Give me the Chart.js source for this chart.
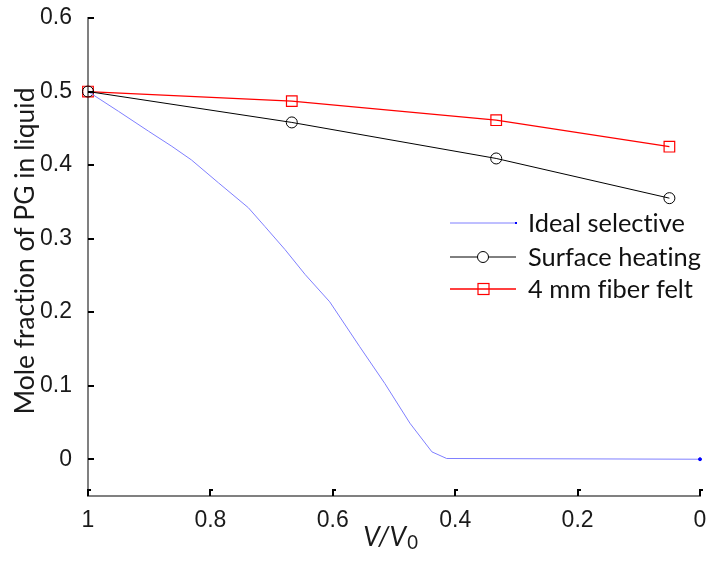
<!DOCTYPE html>
<html>
<head>
<meta charset="utf-8">
<script src="https://cdn.jsdelivr.net/npm/chart.js@4.4.1/dist/chart.umd.min.js"></script>
<style>
  html, body { margin: 0; padding: 0; background: #fff; }
  #wrap { width: 710px; height: 563px; position: relative; }
</style>
</head>
<body>
<div id="wrap"><canvas id="chart"></canvas></div>
<script>
// data
const xIdeal = [1, 0.95, 0.901, 0.863, 0.831, 0.787, 0.738, 0.711, 0.678, 0.645, 0.605, 0.556, 0.515, 0.474, 0.438, 0.414, 0];
const yIdeal = [0.5, 0.473, 0.446, 0.4255, 0.407, 0.376, 0.342, 0.3165, 0.285, 0.251, 0.214, 0.153, 0.103, 0.049, 0.010, 0.001, 0];
const xRuns = [1, 0.667, 0.333, 0.05];
const ySurface = [0.5, 0.458, 0.409, 0.355];
const yFelt = [0.5, 0.487, 0.461, 0.425];
const xTicks = [0, 0.2, 0.4, 0.6, 0.8, 1];
const yTicks = [0, 0.1, 0.2, 0.3, 0.4, 0.5, 0.6];
const seriesNames = ['Ideal selective', 'Surface heating', '4 mm fiber felt'];

const tickFont = { family: 'Liberation Sans, Arial, sans-serif', size: 23, lineHeight: 1 };
const textFamily = 'Lato, "Open Sans", sans-serif';

function pts(xs, ys) {
  return xs.map((x, i) => ({ x: x, y: ys[i] }));
}

// font size that makes a text as wide as in the picture
function fitSize(ctx, text, style, target) {
  ctx.font = style + ' 100px ' + textFamily;
  return 100 * target / ctx.measureText(text).width;
}

// tick marks, axis titles and legend drawn by hand
const decor = {
  id: 'decor',
  afterDraw(chart) {
    const ctx = chart.ctx;
    const xs = chart.scales.x, ys = chart.scales.y;
    const area = chart.chartArea;
    ctx.save();
    ctx.strokeStyle = '#000';
    ctx.lineWidth = 2;
    yTicks.forEach(v => {
      const py = Math.round(ys.getPixelForValue(v));
      ctx.beginPath();
      ctx.moveTo(area.left, py);
      ctx.lineTo(area.left + 6, py);
      ctx.stroke();
    });
    xTicks.forEach(v => {
      const px = Math.round(xs.getPixelForValue(v));
      ctx.beginPath();
      ctx.moveTo(px, area.bottom);
      ctx.lineTo(px, area.bottom - 6);
      ctx.lineTo(px + 3, area.bottom - 6);
      ctx.stroke();
    });

    // no ligatures (ti, fi) in the titles
    if ('textRendering' in ctx) ctx.textRendering = 'optimizeSpeed';

    // y title
    ctx.fillStyle = '#1a1a1a';
    const ySize = fitSize(ctx, 'Mole fraction of PG in liquid', '', 327);
    ctx.font = ySize + 'px ' + textFamily;
    ctx.textAlign = 'center';
    ctx.textBaseline = 'alphabetic';
    ctx.save();
    ctx.translate(34, 251);
    ctx.rotate(-Math.PI / 2);
    ctx.fillText('Mole fraction of PG in liquid', 0, 0);
    ctx.restore();

    // x title: V/V0 with subscript
    ctx.textAlign = 'left';
    const big = 'italic ' + ySize + 'px ' + textFamily;
    const small = (ySize * 0.7) + 'px ' + textFamily;
    ctx.font = big;
    const w1 = ctx.measureText('V/V').width;
    ctx.font = small;
    const w2 = ctx.measureText('0').width;
    const sx = 390 - (w1 + w2) / 2;
    ctx.font = big;
    ctx.fillText('V/V', sx, 546);
    ctx.font = small;
    ctx.fillText('0', sx + w1 + 1, 549);

    // legend
    const rows = [223, 257, 289];
    const lSize = fitSize(ctx, 'Surface heating', '', 173);
    ctx.font = lSize + 'px ' + textFamily;
    chart.data.datasets.forEach((ds, i) => {
      const y = rows[i];
      ctx.strokeStyle = ds.borderColor;
      ctx.lineWidth = ds.borderWidth;
      ctx.beginPath();
      ctx.moveTo(450, y);
      ctx.lineTo(516, y);
      ctx.stroke();
      if (i === 1) {
        ctx.beginPath();
        ctx.arc(483, y, 5.5, 0, Math.PI * 2);
        ctx.fillStyle = '#fff';
        ctx.fill();
        ctx.strokeStyle = '#000';
        ctx.lineWidth = 1;
        ctx.stroke();
      } else if (i === 2) {
        ctx.strokeStyle = '#ff0000';
        ctx.lineWidth = 1.2;
        ctx.strokeRect(478, y - 5.5, 11, 11);
      } else {
        ctx.fillStyle = '#0000ff';
        ctx.fillRect(515, y - 1, 2, 2);
      }
      ctx.fillStyle = '#111';
      ctx.fillText(seriesNames[i], 528, y + 9);
    });
    ctx.restore();
  }
};

new Chart(document.getElementById('chart'), {
  type: 'scatter',
  data: {
    datasets: [
      {
        label: seriesNames[0],
        data: pts(xIdeal, yIdeal),
        showLine: true,
        borderColor: '#7f7fff',
        borderWidth: 1,
        pointRadius: xIdeal.map((x, i) => i === xIdeal.length - 1 ? 1.5 : 0),
        pointBackgroundColor: '#0000ff',
        pointBorderColor: '#0000ff',
        clip: false
      },
      {
        label: seriesNames[1],
        data: pts(xRuns, ySurface),
        showLine: true,
        borderColor: '#000',
        borderWidth: 1,
        pointStyle: 'circle',
        pointRadius: 5.5,
        pointBackgroundColor: 'rgba(0,0,0,0)',
        pointBorderColor: '#000',
        pointBorderWidth: 1,
        clip: false
      },
      {
        label: seriesNames[2],
        data: pts(xRuns, yFelt),
        showLine: true,
        borderColor: '#ff0000',
        borderWidth: 1.3,
        pointStyle: 'rect',
        pointRadius: 7.5,
        pointBackgroundColor: 'rgba(0,0,0,0)',
        pointBorderColor: '#ff0000',
        pointBorderWidth: 1.2,
        clip: false
      }
    ]
  },
  options: {
    responsive: true,
    maintainAspectRatio: false,
    animation: false,
    layout: { padding: { top: 18, right: 10, left: 0, bottom: 0 } },
    scales: {
      x: {
        type: 'linear',
        reverse: true,
        min: 0,
        max: 1,
        afterBuildTicks: s => { s.ticks = xTicks.map(v => ({ value: v })); },
        afterFit: s => { s.height = 67; },
        ticks: {
          font: tickFont,
          color: '#1a1a1a',
          padding: 5,
          maxRotation: 0,
          callback: v => String(+v.toFixed(1))
        },
        grid: { display: false },
        border: { color: '#808080', width: 2 }
      },
      y: {
        min: -0.05,
        max: 0.6,
        afterBuildTicks: s => { s.ticks = yTicks.map(v => ({ value: v })); },
        afterFit: s => { s.width = 88; s.paddingTop = 0; },
        ticks: {
          font: tickFont,
          color: '#1a1a1a',
          padding: 8,
          callback: v => String(+v.toFixed(1))
        },
        grid: { display: false },
        border: { color: '#808080', width: 2 }
      }
    },
    plugins: {
      legend: { display: false },
      tooltip: { enabled: false }
    }
  },
  plugins: [decor]
});
</script>
</body>
</html>
